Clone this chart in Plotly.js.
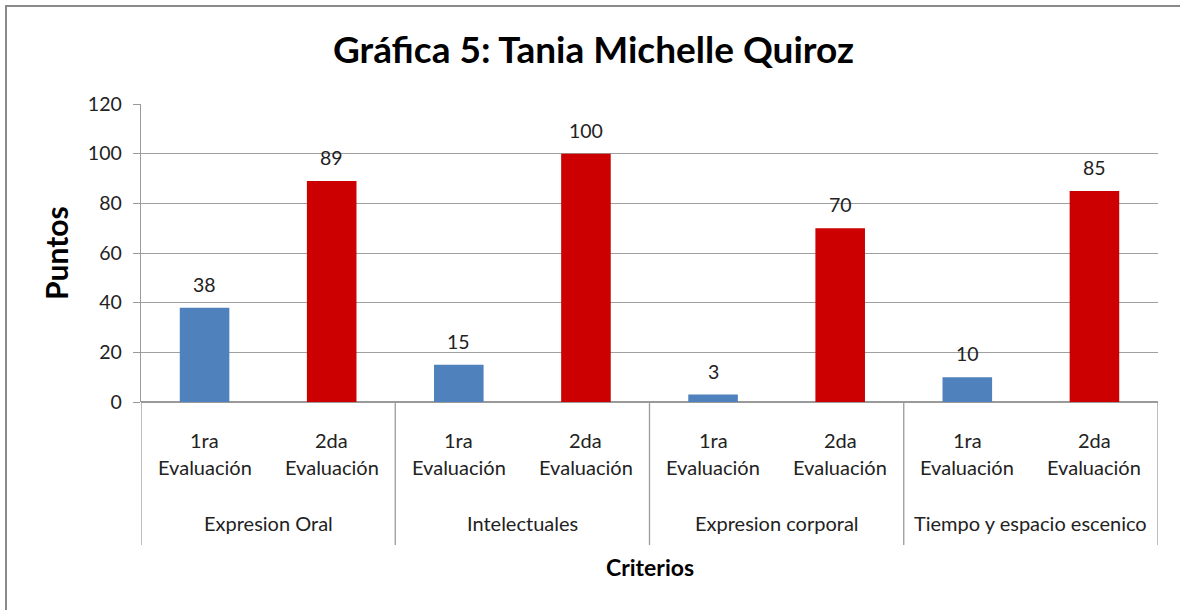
<!DOCTYPE html>
<html>
<head>
<meta charset="utf-8">
<script src="https://cdn.plot.ly/plotly-3.0.1.min.js"></script>
<style>
html,body{margin:0;padding:0;background:#fff;}
#wrap{position:absolute;left:0;top:0;width:1180px;height:610px;overflow:hidden;}
#frame{position:absolute;left:5px;top:5px;width:1180px;height:610px;border-top:2px solid #8a8a8a;border-left:2px solid #8a8a8a;}
#chart{position:absolute;left:0;top:0;width:1180px;height:610px;}
</style>
</head>
<body>
<div id="wrap">
<div id="chart"></div>
<div id="frame"></div>
</div>
<script>
const chartTitle = 'Gráfica 5: Tania Michelle Quiroz';
const yTitle = 'Puntos';
const xTitle = 'Criterios';
const groups = ['Expresion Oral', 'Intelectuales', 'Expresion corporal', 'Tiempo y espacio escenico'];
const evals = ['1ra Evaluación', '2da Evaluación'];
const evalTickLines = [['1ra', 'Evaluación'], ['2da', 'Evaluación']];
const primera = [38, 15, 3, 10];
const segunda = [89, 100, 70, 85];
const yTicks = [0, 20, 40, 60, 80, 100, 120];

const FONT = 'Lato, "Open Sans", "DejaVu Sans", sans-serif';
const key = (g, e) => g + ' | ' + e;
const catOrder = groups.flatMap(g => evals.map(e => key(g, e)));
const series = [primera, segunda];
const colors = ['#4F81BD', '#CC0000'];

const traces = series.map((vals, i) => ({
  type: 'bar',
  name: evals[i],
  x: groups.map(g => key(g, evals[i])),
  y: vals,
  width: 0.39,
  marker: {color: colors[i], line: {width: 0}},
  hoverinfo: 'x+y'
}));

const annotations = [];
// value labels
series.forEach((vals, i) => {
  vals.forEach((v, j) => {
    annotations.push({
      x: key(groups[j], evals[i]), y: v, xref: 'x', yref: 'y',
      text: String(v), showarrow: false, yanchor: 'bottom', yshift: 10,
      font: {family: FONT, size: 19.5, color: '#222'}
    });
  });
});
// eval tick labels (two lines)
groups.forEach(g => {
  evals.forEach((e, i) => {
    evalTickLines[i].forEach((line, k) => {
      annotations.push({
        x: key(g, e), xref: 'x', yref: 'paper',
        y: -(440 - 402) / 298 - k * 27 / 298,
        text: line, showarrow: false, yanchor: 'middle',
        font: {family: FONT, size: 20, color: '#222'}
      });
    });
  });
});
// group labels
groups.forEach((g, j) => {
  annotations.push({
    x: j * evals.length + (evals.length - 1) / 2, xref: 'x', yref: 'paper',
    y: -(523 - 402) / 298, text: g, showarrow: false, yanchor: 'middle',
    font: {family: FONT, size: 20, color: '#222'}
  });
});
// x axis title
annotations.push({
  x: 0.5, xref: 'paper', y: -(567 - 402) / 298, yref: 'paper',
  text: '<b>' + xTitle + '</b>', showarrow: false, yanchor: 'middle',
  font: {family: FONT, size: 23, color: '#000'}
});
// y axis title
annotations.push({
  x: -(141 - 56) / 1017, xref: 'paper', y: 0.5, yref: 'paper', textangle: -90,
  text: '<b>' + yTitle + '</b>', showarrow: false, xanchor: 'center', yanchor: 'middle',
  font: {family: FONT, size: 30, color: '#000'}
});

const shapes = [];
for (let j = 0; j <= groups.length; j++) {
  shapes.push({
    type: 'line', xref: 'x', yref: 'paper',
    x0: j * evals.length - 0.5, x1: j * evals.length - 0.5,
    y0: 0, y1: -(545 - 402) / 298,
    line: {color: '#9a9a9a', width: 1.3}
  });
}

const layout = {
  width: 1180, height: 610,
  margin: {l: 141, r: 22, t: 104, b: 208},
  paper_bgcolor: '#fff', plot_bgcolor: '#fff',
  showlegend: false,
  barmode: 'overlay',
  font: {family: FONT, size: 18, color: '#222'},
  title: {
    text: '<b>' + chartTitle + '</b>',
    x: 0.503, xanchor: 'center', y: 1 - 50 / 610, yanchor: 'middle',
    font: {family: FONT, size: 37, color: '#000'}
  },
  xaxis: {
    type: 'category', categoryorder: 'array', categoryarray: catOrder,
    range: [-0.5, catOrder.length - 0.5],
    showticklabels: false, ticks: '', showgrid: false, zeroline: false,
    showline: false, fixedrange: true
  },
  yaxis: {
    range: [0, 120], tickvals: yTicks, ticks: 'outside', ticklen: 7, tickcolor: '#9a9a9a',
    ticklabelstandoff: 7,
    showline: true, linecolor: '#9a9a9a', linewidth: 1.3,
    showgrid: true, gridcolor: '#a0a0a0', gridwidth: 1,
    zeroline: true, zerolinecolor: '#9a9a9a', zerolinewidth: 1.3,
    tickfont: {family: FONT, size: 19.5, color: '#222'},
    fixedrange: true
  },
  annotations: annotations,
  shapes: shapes
};

Plotly.newPlot('chart', traces, layout, {displayModeBar: false, staticPlot: true});
</script>
</body>
</html>
